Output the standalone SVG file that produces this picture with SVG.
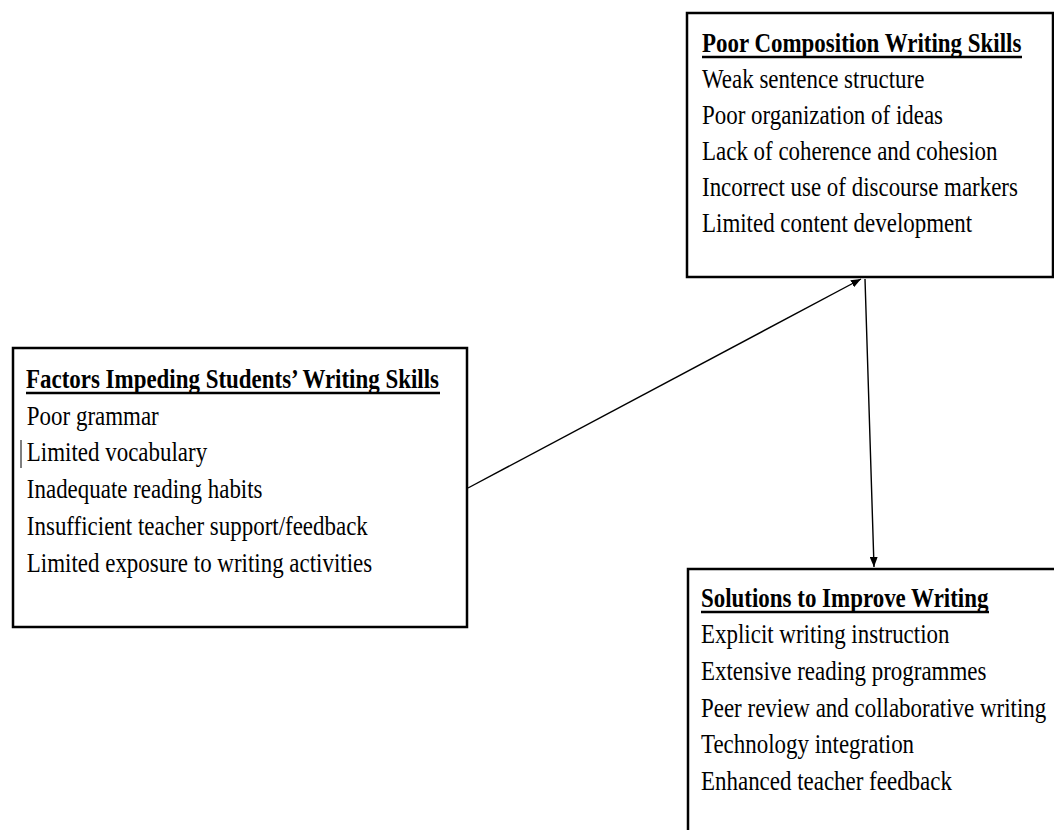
<svg xmlns="http://www.w3.org/2000/svg" width="1054" height="830" viewBox="0 0 1054 830">
<style>
.box{fill:#fff;stroke:#000;stroke-width:2.5}
.t{font-family:"Liberation Serif","Times New Roman",serif;font-size:27px;fill:#000}
.h{font-weight:bold}
.ul{stroke:#000;stroke-width:2.5}
.conn{stroke:#000;stroke-width:1.4;fill:none}
</style>
<defs>
<marker id="arr" viewBox="0 0 10 10" refX="10" refY="5" markerWidth="10" markerHeight="8" orient="auto" markerUnits="userSpaceOnUse" preserveAspectRatio="none">
<path d="M0,0 L10,5 L0,10 z" fill="#000"/>
</marker>
</defs>
<rect width="1054" height="830" fill="#fff"/>
<g id="node-composition">
<rect class="box" x="687" y="13" width="366" height="264"/>
<line class="ul" x1="702" y1="57" x2="1022" y2="57"/>
<g transform="translate(702,0) scale(0.85,1)">
<text class="t h" x="0" y="52">Poor Composition Writing Skills</text>
<text class="t" x="0" y="88">Weak sentence structure</text>
<text class="t" x="0" y="124">Poor organization of ideas</text>
<text class="t" x="0" y="160">Lack of coherence and cohesion</text>
<text class="t" x="0" y="196">Incorrect use of discourse markers</text>
<text class="t" x="0" y="232">Limited content development</text>
</g>
</g>
<g id="node-factors">
<rect class="box" x="13" y="348" width="454" height="279"/>
<line class="ul" x1="26" y1="393" x2="440" y2="393"/>
<line x1="21" y1="440" x2="21" y2="468" stroke="#000" stroke-width="1"/>
<g transform="translate(26,0) scale(0.85,1)">
<text class="t h" x="0" y="388">Factors Impeding Students’ Writing Skills</text>
<text class="t" x="1" y="425">Poor grammar</text>
<text class="t" x="1" y="461">Limited vocabulary</text>
<text class="t" x="1" y="498">Inadequate reading habits</text>
<text class="t" x="1" y="535">Insufficient teacher support/feedback</text>
<text class="t" x="1" y="572">Limited exposure to writing activities</text>
</g>
</g>
<g id="node-solutions">
<rect class="box" x="688" y="569" width="400" height="300"/>
<line class="ul" x1="701" y1="612" x2="989" y2="612"/>
<g transform="translate(701,0) scale(0.85,1)">
<text class="t h" x="0" y="607">Solutions to Improve Writing</text>
<text class="t" x="0" y="643">Explicit writing instruction</text>
<text class="t" x="0" y="680">Extensive reading programmes</text>
<text class="t" x="0" y="717">Peer review and collaborative writing</text>
<text class="t" x="0" y="753">Technology integration</text>
<text class="t" x="0" y="790">Enhanced teacher feedback</text>
</g>
</g>
<g id="connectors">
<line class="conn" x1="468" y1="488" x2="861" y2="279" marker-end="url(#arr)"/>
<line class="conn" x1="865" y1="279" x2="874" y2="567" marker-end="url(#arr)"/>
</g>
</svg>
